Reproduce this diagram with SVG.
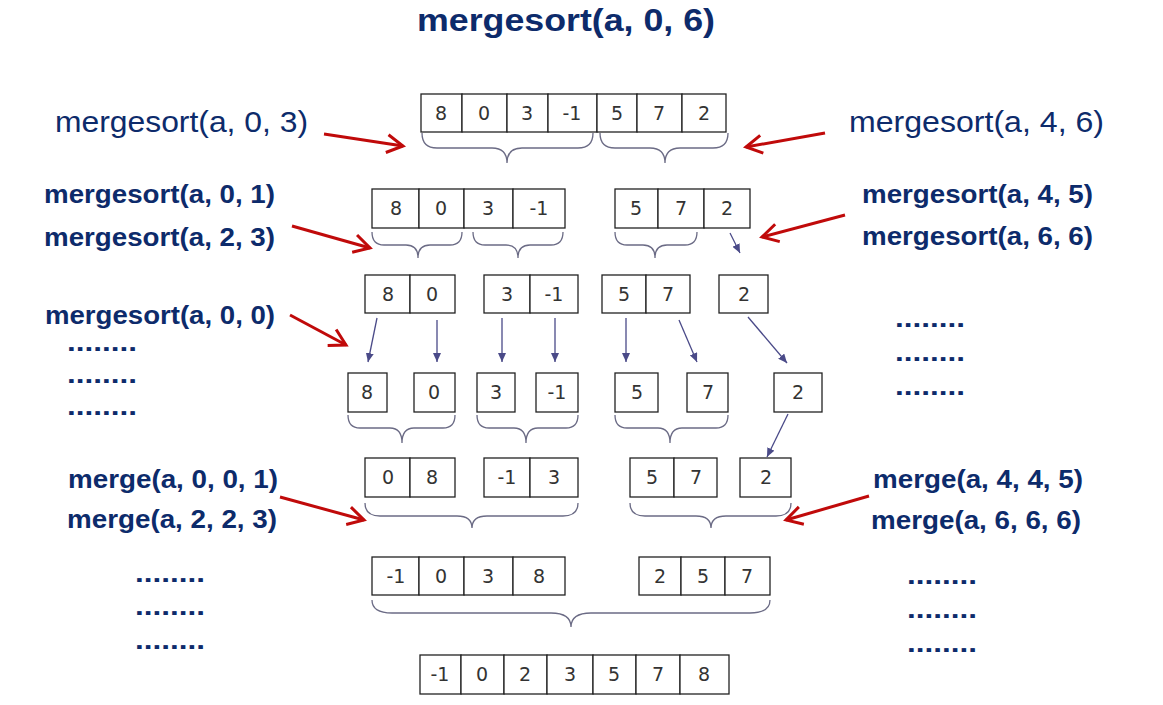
<svg xmlns="http://www.w3.org/2000/svg" width="1163" height="705" viewBox="0 0 1163 705">
<style>
.cell{fill:#fff;stroke:#222;stroke-width:1.3}
.num{font-family:"DejaVu Sans",Verdana,sans-serif;font-size:19px;fill:#333;text-anchor:middle}
.lbl{font-family:"Liberation Sans",Arial,sans-serif;fill:#0d2b6b}
.b{font-weight:bold;font-size:25px}
.n{font-size:30px}
.brace{fill:none;stroke:#6b6b85;stroke-width:1.3}
.ta{stroke:#4a4a88;stroke-width:1.3;fill:none;marker-end:url(#th)}
.ra{stroke:#c00a0a;stroke-width:3;fill:none;marker-end:url(#rh)}
</style>
<defs>
<marker id="th" markerUnits="userSpaceOnUse" markerWidth="10" markerHeight="8" refX="9" refY="4" orient="auto"><path d="M0,0 L9,4 L0,8 Z" fill="#4a4a88"/></marker>
<marker id="rh" markerUnits="userSpaceOnUse" markerWidth="22" markerHeight="22" refX="18" refY="11" orient="auto"><path d="M2,2 L18,11 L2,20" fill="none" stroke="#c00a0a" stroke-width="3"/></marker>
</defs>
<rect width="1163" height="705" fill="#fff"/>

<g id="title"><text class="lbl" x="417" y="31" font-size="32" font-weight="bold" textLength="298" lengthAdjust="spacingAndGlyphs">mergesort(a, 0, 6)</text></g>

<g id="labels">
<text class="lbl n" x="55" y="132" textLength="253" lengthAdjust="spacingAndGlyphs">mergesort(a, 0, 3)</text>
<text class="lbl n" x="849" y="132" textLength="255" lengthAdjust="spacingAndGlyphs">mergesort(a, 4, 6)</text>
<text class="lbl b" x="44" y="203" textLength="231" lengthAdjust="spacingAndGlyphs">mergesort(a, 0, 1)</text>
<text class="lbl b" x="44" y="246" textLength="231" lengthAdjust="spacingAndGlyphs">mergesort(a, 2, 3)</text>
<text class="lbl b" x="862" y="203" textLength="231" lengthAdjust="spacingAndGlyphs">mergesort(a, 4, 5)</text>
<text class="lbl b" x="862" y="245" textLength="231" lengthAdjust="spacingAndGlyphs">mergesort(a, 6, 6)</text>
<text class="lbl b" x="45" y="324" textLength="230" lengthAdjust="spacingAndGlyphs">mergesort(a, 0, 0)</text>
<text class="lbl b" x="68" y="488" textLength="210" lengthAdjust="spacingAndGlyphs">merge(a, 0, 0, 1)</text>
<text class="lbl b" x="67" y="528" textLength="210" lengthAdjust="spacingAndGlyphs">merge(a, 2, 2, 3)</text>
<text class="lbl b" x="873" y="488" textLength="210" lengthAdjust="spacingAndGlyphs">merge(a, 4, 4, 5)</text>
<text class="lbl b" x="871" y="529" textLength="210" lengthAdjust="spacingAndGlyphs">merge(a, 6, 6, 6)</text>
<g id="dots">
<text class="lbl b" x="67" y="351" textLength="70" lengthAdjust="spacingAndGlyphs">........</text>
<text class="lbl b" x="67" y="383" textLength="70" lengthAdjust="spacingAndGlyphs">........</text>
<text class="lbl b" x="67" y="415" textLength="70" lengthAdjust="spacingAndGlyphs">........</text>
<text class="lbl b" x="895" y="327" textLength="70" lengthAdjust="spacingAndGlyphs">........</text>
<text class="lbl b" x="895" y="361" textLength="70" lengthAdjust="spacingAndGlyphs">........</text>
<text class="lbl b" x="895" y="395" textLength="70" lengthAdjust="spacingAndGlyphs">........</text>
<text class="lbl b" x="135" y="582" textLength="70" lengthAdjust="spacingAndGlyphs">........</text>
<text class="lbl b" x="135" y="615" textLength="70" lengthAdjust="spacingAndGlyphs">........</text>
<text class="lbl b" x="135" y="649" textLength="70" lengthAdjust="spacingAndGlyphs">........</text>
<text class="lbl b" x="907" y="584" textLength="70" lengthAdjust="spacingAndGlyphs">........</text>
<text class="lbl b" x="907" y="618" textLength="70" lengthAdjust="spacingAndGlyphs">........</text>
<text class="lbl b" x="907" y="652" textLength="70" lengthAdjust="spacingAndGlyphs">........</text>
</g>
</g>

<g id="r1">
<rect class="cell" x="421" y="94" width="41" height="38"/><rect class="cell" x="462" y="94" width="45" height="38"/><rect class="cell" x="507" y="94" width="41" height="38"/><rect class="cell" x="548" y="94" width="49" height="38"/><rect class="cell" x="597" y="94" width="40" height="38"/><rect class="cell" x="637" y="94" width="45" height="38"/><rect class="cell" x="682" y="94" width="44" height="38"/>
<text class="num" x="441" y="120">8</text><text class="num" x="484" y="120">0</text><text class="num" x="527" y="120">3</text><text class="num" x="572" y="120">-1</text><text class="num" x="617" y="120">5</text><text class="num" x="659" y="120">7</text><text class="num" x="704" y="120">2</text>
</g>

<g id="r2a">
<rect class="cell" x="372" y="189" width="47" height="39"/><rect class="cell" x="419" y="189" width="45" height="39"/><rect class="cell" x="464" y="189" width="49" height="39"/><rect class="cell" x="513" y="189" width="52" height="39"/>
<text class="num" x="396" y="215">8</text><text class="num" x="441" y="215">0</text><text class="num" x="488" y="215">3</text><text class="num" x="539" y="215">-1</text>
</g>
<g id="r2b">
<rect class="cell" x="615" y="189" width="43" height="39"/><rect class="cell" x="658" y="189" width="46" height="39"/><rect class="cell" x="704" y="189" width="46" height="39"/>
<text class="num" x="636" y="215">5</text><text class="num" x="681" y="215">7</text><text class="num" x="727" y="215">2</text>
</g>

<g id="r3a"><rect class="cell" x="365" y="275" width="45" height="38"/><rect class="cell" x="410" y="275" width="45" height="38"/><text class="num" x="388" y="301">8</text><text class="num" x="432" y="301">0</text></g>
<g id="r3b"><rect class="cell" x="484" y="275" width="46" height="38"/><rect class="cell" x="530" y="275" width="48" height="38"/><text class="num" x="507" y="301">3</text><text class="num" x="554" y="301">-1</text></g>
<g id="r3c"><rect class="cell" x="602" y="275" width="44" height="38"/><rect class="cell" x="646" y="275" width="44" height="38"/><text class="num" x="624" y="301">5</text><text class="num" x="668" y="301">7</text></g>
<g id="r3d"><rect class="cell" x="719" y="275" width="49" height="38"/><text class="num" x="744" y="301">2</text></g>

<g id="r4a"><rect class="cell" x="348" y="373" width="39" height="39"/><text class="num" x="367" y="399">8</text></g>
<g id="r4b"><rect class="cell" x="414" y="373" width="41" height="39"/><text class="num" x="434" y="399">0</text></g>
<g id="r4c"><rect class="cell" x="477" y="373" width="38" height="39"/><text class="num" x="496" y="399">3</text></g>
<g id="r4d"><rect class="cell" x="536" y="373" width="42" height="39"/><text class="num" x="557" y="399">-1</text></g>
<g id="r4e"><rect class="cell" x="615" y="373" width="43" height="39"/><text class="num" x="637" y="399">5</text></g>
<g id="r4f"><rect class="cell" x="687" y="373" width="41" height="39"/><text class="num" x="708" y="399">7</text></g>
<g id="r4g"><rect class="cell" x="774" y="373" width="48" height="39"/><text class="num" x="798" y="399">2</text></g>

<g id="r5a"><rect class="cell" x="365" y="458" width="45" height="39"/><rect class="cell" x="410" y="458" width="45" height="39"/><text class="num" x="388" y="484">0</text><text class="num" x="432" y="484">8</text></g>
<g id="r5b"><rect class="cell" x="484" y="458" width="46" height="39"/><rect class="cell" x="530" y="458" width="48" height="39"/><text class="num" x="507" y="484">-1</text><text class="num" x="554" y="484">3</text></g>
<g id="r5c"><rect class="cell" x="630" y="458" width="44" height="39"/><rect class="cell" x="674" y="458" width="43" height="39"/><text class="num" x="652" y="484">5</text><text class="num" x="696" y="484">7</text></g>
<g id="r5d"><rect class="cell" x="740" y="458" width="51" height="39"/><text class="num" x="766" y="484">2</text></g>

<g id="r6a">
<rect class="cell" x="372" y="557" width="47" height="38"/><rect class="cell" x="419" y="557" width="45" height="38"/><rect class="cell" x="464" y="557" width="49" height="38"/><rect class="cell" x="513" y="557" width="52" height="38"/>
<text class="num" x="396" y="583">-1</text><text class="num" x="441" y="583">0</text><text class="num" x="488" y="583">3</text><text class="num" x="539" y="583">8</text>
</g>
<g id="r6b">
<rect class="cell" x="639" y="557" width="42" height="38"/><rect class="cell" x="681" y="557" width="44" height="38"/><rect class="cell" x="725" y="557" width="45" height="38"/>
<text class="num" x="660" y="583">2</text><text class="num" x="703" y="583">5</text><text class="num" x="747" y="583">7</text>
</g>

<g id="r7">
<rect class="cell" x="420" y="655" width="41" height="39"/><rect class="cell" x="461" y="655" width="43" height="39"/><rect class="cell" x="504" y="655" width="43" height="39"/><rect class="cell" x="547" y="655" width="46" height="39"/><rect class="cell" x="593" y="655" width="43" height="39"/><rect class="cell" x="636" y="655" width="44" height="39"/><rect class="cell" x="680" y="655" width="49" height="39"/>
<text class="num" x="440" y="681">-1</text><text class="num" x="482" y="681">0</text><text class="num" x="525" y="681">2</text><text class="num" x="570" y="681">3</text><text class="num" x="614" y="681">5</text><text class="num" x="658" y="681">7</text><text class="num" x="704" y="681">8</text>
</g>

<g id="connectors">
<path class="brace" d="M422,133 Q422,148 437,148 L492,148 Q507,148 507,163 Q507,148 522,148 L578,148 Q593,148 593,133"/>
<path class="brace" d="M600,133 Q600,148 615,148 L650,148 Q665,148 665,163 Q665,148 680,148 L713,148 Q728,148 728,133"/>
<path class="brace" d="M372,232 Q372,245 384,245 L406,245 Q418,245 418,258 Q418,245 430,245 L450,245 Q462,245 462,232"/>
<path class="brace" d="M473,232 Q473,245 485,245 L506,245 Q518,245 518,258 Q518,245 530,245 L551,245 Q563,245 563,232"/>
<path class="brace" d="M615,232 Q615,245 627,245 L643,245 Q655,245 655,258 Q655,245 667,245 L685,245 Q697,245 697,232"/>
<path class="brace" d="M348,415 Q348,428 360,428 L390,428 Q402,428 402,443 Q402,428 414,428 L443,428 Q455,428 455,415"/>
<path class="brace" d="M477,415 Q477,428 489,428 L514,428 Q526,428 526,443 Q526,428 538,428 L566,428 Q578,428 578,415"/>
<path class="brace" d="M615,415 Q615,428 627,428 L658,428 Q670,428 670,443 Q670,428 682,428 L716,428 Q728,428 728,415"/>
<path class="brace" d="M365,503 Q365,516 380,516 L457,516 Q472,516 472,528 Q472,516 487,516 L563,516 Q578,516 578,503"/>
<path class="brace" d="M630,503 Q630,516 645,516 L696,516 Q711,516 711,528 Q711,516 726,516 L776,516 Q791,516 791,503"/>
<path class="brace" d="M372,600 Q372,613 392,613 L551,613 Q571,613 571,627 Q571,613 591,613 L750,613 Q770,613 770,600"/>

<line class="ta" x1="730" y1="233" x2="740" y2="253"/>
<line class="ta" x1="377" y1="318" x2="368" y2="362"/>
<line class="ta" x1="437" y1="320" x2="437" y2="362"/>
<line class="ta" x1="502" y1="318" x2="502" y2="362"/>
<line class="ta" x1="555" y1="318" x2="555" y2="362"/>
<line class="ta" x1="626" y1="318" x2="626" y2="362"/>
<line class="ta" x1="679" y1="320" x2="697" y2="362"/>
<line class="ta" x1="748" y1="317" x2="787" y2="363"/>
<line class="ta" x1="788" y1="414" x2="767" y2="457"/>

<line class="ra" x1="324" y1="134" x2="403" y2="146"/>
<line class="ra" x1="825" y1="133" x2="746" y2="147"/>
<line class="ra" x1="292" y1="226" x2="370" y2="248"/>
<line class="ra" x1="845" y1="215" x2="762" y2="237"/>
<line class="ra" x1="290" y1="315" x2="346" y2="345"/>
<line class="ra" x1="280" y1="497" x2="364" y2="520"/>
<line class="ra" x1="869" y1="496" x2="786" y2="520"/>
</g>
</svg>
